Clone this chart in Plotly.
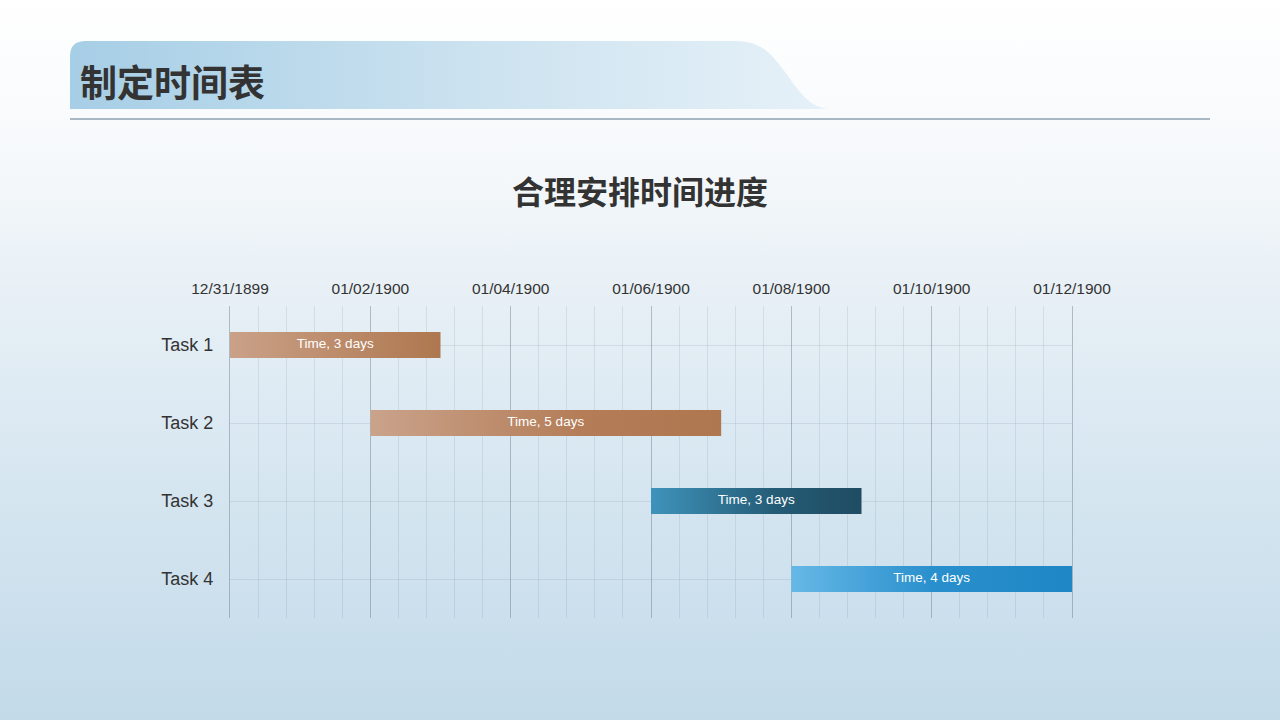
import base64
import pandas as pd
import plotly.graph_objects as go

# ---------------- data ----------------
tasks = ["Task 1", "Task 2", "Task 3", "Task 4"]
starts = ["1899-12-31", "1900-01-02", "1900-01-06", "1900-01-08"]
durations_days = [3, 5, 3, 4]
labels = ["Time, 3 days", "Time, 5 days", "Time, 3 days", "Time, 4 days"]
x_range = ["1899-12-31", "1900-01-12"]
page_title = "制定时间表"
chart_title = "合理安排时间进度"

bar_scales = [
    [[0, "#caa188"], [1, "#ae774f"]],
    [[0, "#caa38b"], [0.6, "#b47d58"], [1, "#ae774f"]],
    [[0, "#3f93bb"], [0.6, "#245b75"], [1, "#1f4c63"]],
    [[0, "#66b8e6"], [0.5, "#2a90cd"], [1, "#1f86c5"]],
]

W, H = 1280, 720
L, R, T, B = 230, 1072, 306, 618
pw, ph = R - L, B - T

# ---------------- background (svg) ----------------
svg = f'''<svg xmlns="http://www.w3.org/2000/svg" width="{W}" height="{H}" viewBox="0 0 {W} {H}">
<defs>
<linearGradient id="bg" x1="0" y1="0" x2="0" y2="1">
<stop offset="0" stop-color="#ffffff"/>
<stop offset="0.22" stop-color="#f6f9fb"/>
<stop offset="0.40" stop-color="#e8f0f6"/>
<stop offset="0.70" stop-color="#d4e5f0"/>
<stop offset="1" stop-color="#c3dae9"/>
</linearGradient>
<linearGradient id="hd" x1="0" y1="0" x2="1" y2="0">
<stop offset="0" stop-color="#a6cee6"/>
<stop offset="0.55" stop-color="#cde3f0"/>
<stop offset="1" stop-color="#e6f1f8"/>
</linearGradient>
</defs>
<rect x="0" y="0" width="{W}" height="{H}" fill="url(#bg)"/>
<path d="M70,109 L70,56 Q70,41 86,41 L735,41 C760,41 770,52 785,72 C800,93 810,108 830,109 Z" fill="url(#hd)"/>
<rect x="70" y="118" width="1140" height="2" fill="#a7b8c4"/>
</svg>'''
src = "data:image/svg+xml;base64," + base64.b64encode(svg.encode("utf-8")).decode()

fig = go.Figure()

half = 1 / 6
for i, (s, d, lab) in enumerate(zip(starts, durations_days, labels)):
    st = pd.Timestamp(s)
    en = st + pd.Timedelta(days=d)
    xs = [st, en, en, st, st]
    ys = [i - half, i - half, i + half, i + half, i - half]
    fig.add_trace(go.Scatter(
        x=xs, y=ys, mode="lines", fill="toself",
        line=dict(width=0, color="rgba(0,0,0,0)"),
        fillgradient=dict(type="horizontal", colorscale=bar_scales[i]),
        hoverinfo="skip", showlegend=False,
    ))
    fig.add_trace(go.Scatter(
        x=[st + (en - st) / 2], y=[i], mode="text", text=[lab],
        textfont=dict(family="Liberation Sans, Arial, sans-serif", size=13.5, color="#ffffff"),
        showlegend=False, hoverinfo="skip",
    ))

major_col = "rgba(95,115,130,0.42)"
minor_col = "rgba(95,125,150,0.15)"
day_ms = 86400000
fig.update_xaxes(
    type="date", side="top", range=x_range,
    tick0=x_range[0], dtick=2 * day_ms, tickformat="%m/%d/%Y",
    showgrid=True, gridcolor=major_col, gridwidth=1.3,
    minor=dict(tick0=x_range[0], dtick=0.4 * day_ms, showgrid=True, gridcolor=minor_col, gridwidth=1),
    ticks="", ticklabelstandoff=8, showline=False, zeroline=False,
    tickfont=dict(family="Liberation Sans, Arial, sans-serif", size=15.5, color="#333333"),
)
fig.update_yaxes(
    range=[3.5, -0.5], tickvals=list(range(len(tasks))), ticktext=tasks,
    showgrid=True, gridcolor=minor_col, gridwidth=1, zeroline=False,
    showline=True, mirror=True, linecolor=major_col, linewidth=1.3,
    ticks="", ticklabelstandoff=12,
    tickfont=dict(family="Liberation Sans, Arial, sans-serif", size=18, color="#333333"),
)

fig.update_layout(
    width=W, height=H, autosize=False,
    margin=dict(l=L, r=W - R, t=T, b=H - B, pad=0),
    paper_bgcolor="#e6eff5", plot_bgcolor="rgba(0,0,0,0)",
    images=[dict(
        source=src, xref="paper", yref="paper",
        x=-L / pw, y=1 + T / ph, sizex=W / pw, sizey=H / ph,
        xanchor="left", yanchor="top", sizing="stretch", layer="below",
    )],
    annotations=[
        dict(text=f"<b>{page_title}</b>", xref="paper", yref="paper",
             x=(78 - L) / pw, y=1 + (T - 81) / ph, xanchor="left", yanchor="middle",
             showarrow=False,
             font=dict(family="Noto Sans CJK SC", size=37, color="#333333")),
        dict(text=f"<b>{chart_title}</b>", xref="paper", yref="paper",
             x=(640 - L) / pw, y=1 + (T - 190) / ph, xanchor="center", yanchor="middle",
             showarrow=False,
             font=dict(family="Noto Sans CJK SC", size=32, color="#333333")),
    ],
)

fig.write_html(
    "out.html",
    config={"displayModeBar": False},
    post_script="document.body.style.margin='0px';document.body.style.overflow='hidden';",
)
